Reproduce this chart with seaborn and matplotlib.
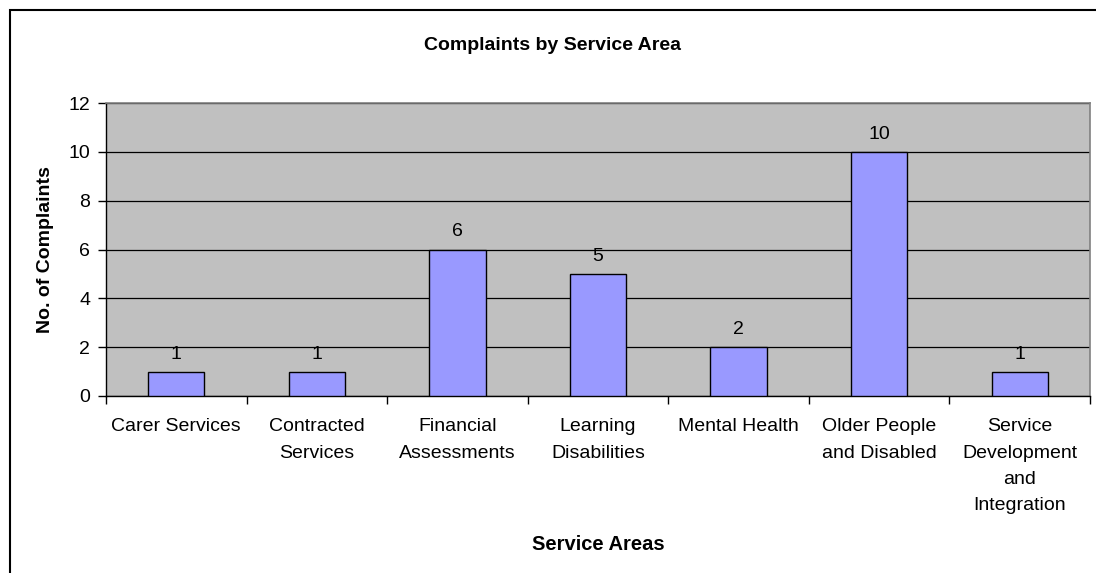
import matplotlib
matplotlib.use("Agg")
import matplotlib.pyplot as plt
from matplotlib.patches import Rectangle
import seaborn as sns
import pandas as pd

# Complaint counts per service area
areas = [
    "Carer Services",
    "Contracted\nServices",
    "Financial\nAssessments",
    "Learning\nDisabilities",
    "Mental Health",
    "Older People\nand Disabled",
    "Service\nDevelopment\nand\nIntegration",
]
complaints = [1, 1, 6, 5, 2, 10, 1]
y_ticks = [0, 2, 4, 6, 8, 10, 12]

plt.rcParams["font.family"] = ["Liberation Sans", "DejaVu Sans"]

df = pd.DataFrame({"area": areas, "complaints": complaints})

W, H = 1096, 573
fig = plt.figure(figsize=(W / 100, H / 100), dpi=100)
fig.patch.set_facecolor("white")

# axes placed in pixel terms
left, right, top, bottom = 106, 1090, 103, 396
ax = fig.add_axes([left / W, 1 - bottom / H, (right - left) / W, (bottom - top) / H])

sns.barplot(data=df, x="area", y="complaints", color="#9999FF", saturation=1,
            width=0.4, edgecolor="black", linewidth=1.0, ax=ax, zorder=3)

ax.set_facecolor("#C0C0C0")
ax.set_ylim(0, 12)
ax.set_xlim(-0.5, len(areas) - 0.5)
ax.set_yticks(y_ticks)
ax.yaxis.grid(True, color="black", linewidth=0.9, zorder=1)
ax.set_axisbelow(True)

for side in ("top", "right"):
    ax.spines[side].set_color("#808080")
    ax.spines[side].set_linewidth(1.2)
for side in ("left", "bottom"):
    ax.spines[side].set_color("black")
    ax.spines[side].set_linewidth(1.0)

# category labels at centres, tick marks at boundaries
ax.set_xticks(range(len(areas)))
ax.set_xticklabels(areas, fontsize=14, linespacing=1.72, va="top")
ax.set_xticks([i - 0.5 for i in range(len(areas) + 1)], minor=True)
ax.tick_params(axis="x", which="major", length=0, pad=16)
ax.tick_params(axis="x", which="minor", length=6, direction="out", width=1)
ax.tick_params(axis="y", length=6, direction="out", width=1, labelsize=14, pad=5.5)

for container in ax.containers:
    ax.bar_label(container, labels=[str(v) for v in complaints], padding=6.5, fontsize=14)

ax.set_xlabel("Service Areas", fontsize=14.5, fontweight="bold")
ax.xaxis.label.set_va("center")
ax.xaxis.set_label_coords(0.5, -(545 - bottom) / (bottom - top))
ax.set_ylabel("No. of Complaints", fontsize=14, fontweight="bold")
ax.yaxis.label.set_va("center")
ax.yaxis.set_label_coords((45 - left) / (right - left), 0.5)

fig.text(552 / W, 1 - 45 / H, "Complaints by Service Area", ha="center", va="center",
         fontsize=14, fontweight="bold")

# outer chart frame
fig.patches.append(Rectangle((10 / W, -0.1), 1.2, 1.1 - 10 / H, transform=fig.transFigure,
                             fill=False, edgecolor="black", linewidth=1.5))

fig.savefig("out.png", dpi=100)
